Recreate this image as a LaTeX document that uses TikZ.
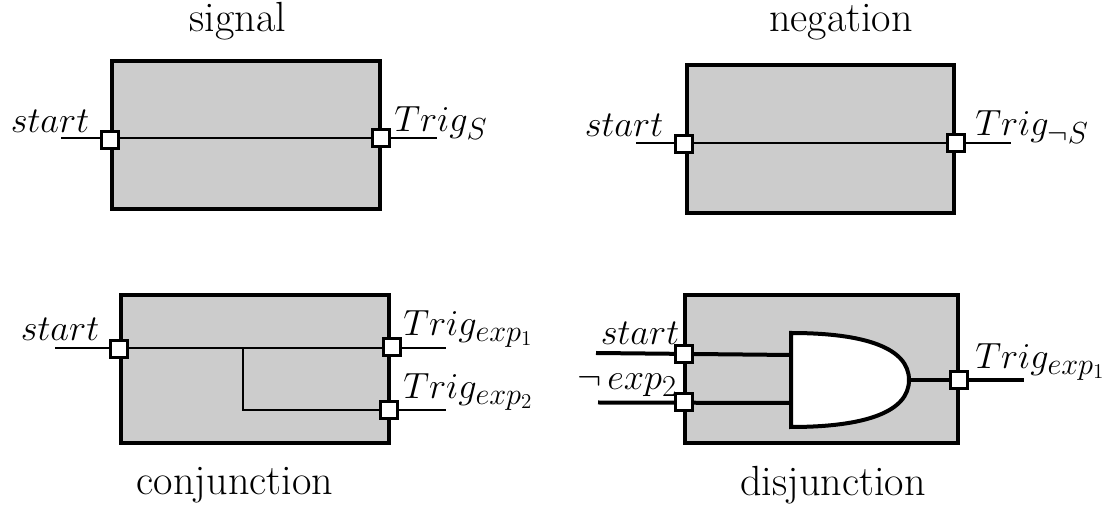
\documentclass[tikz,border=0pt]{standalone}
\usepackage{amsmath}
\usepackage{tikz}
\usetikzlibrary{positioning}
\DeclareMathSizes{22}{22}{17}{12}
\tikzset{
    blockbox/.style = {draw, line width = 0.08cm, fill = black!20, minimum width = 5.36cm, minimum height = 2.96cm, inner sep = 0pt},
    port/.style = {draw, line width = 0.05cm, fill = white, minimum size = 0.34cm, inner sep = 0pt},
    wire/.style = {line width = 0.035cm},
    thickwire/.style = {line width = 0.08cm},
    caption/.style = {inner sep = 0pt, font = \fontsize{24}{28}\selectfont},
    portlabel/.style = {inner sep = 0pt, font = \fontsize{22}{26}\selectfont}
}

\begin{document}
\begin{tikzpicture}[x = 0.02cm, y = -0.02cm]
        \useasboundingbox (0,0) rectangle (1107,506);

        % signal
        \node [caption] (signaltitle) at (238,21) {signal};
        \node [blockbox] (signalbox) at (246,135) {};
        \node [port] (signalin) at (110,140) {};
        \node [port] (signalout) at (381,138) {};
        \coordinate (signalstart) at (61,138);
        \coordinate (signalend) at (437,138);
        \draw [wire] (signalstart) -- (signalend);
        \node [port] at (signalin) {};
        \node [port] at (signalout) {};
        \node [portlabel] (signalstartlabel) at (50,121) {$start$};
        \node [portlabel, anchor = west] (signaltrig) at (394,123) {$Trig_S$};

        % negation
        \node [caption] (negationtitle) at (841,22) {negation};
        \node [blockbox] (negationbox) at (820.5,139) {};
        \node [port] (negationin) at (684,144) {};
        \node [port] (negationout) at (956,143) {};
        \coordinate (negationstart) at (636,143);
        \coordinate (negationend) at (1011,143);
        \draw [wire] (negationstart) -- (negationend);
        \node [port] at (negationin) {};
        \node [port] at (negationout) {};
        \node [portlabel] (negationstartlabel) at (624,125) {$start$};
        \node [portlabel, anchor = west] (negationtrig) at (975,127) {$Trig_{\neg S}$};

        % conjunction
        \node [blockbox] (conjunctionbox) at (255,369) {};
        \node [port] (conjunctionin) at (119,349) {};
        \node [port] (conjunctionup) at (392,347) {};
        \node [port] (conjunctiondown) at (389,410) {};
        \coordinate (conjunctionstart) at (55,348);
        \coordinate (conjunctionend) at (446,348);
        \coordinate (conjunctionlow) at (446,410);
        \coordinate (conjunctionsplit) at (243,348);
        \coordinate (conjunctionturn) at (243,410);
        \draw [wire] (conjunctionstart) -- (conjunctionend);
        \draw [wire] (conjunctionsplit) -- (conjunctionturn) -- (conjunctionlow);
        \node [port] at (conjunctionin) {};
        \node [port] at (conjunctionup) {};
        \node [port] at (conjunctiondown) {};
        \node [portlabel] (conjunctionstartlabel) at (60,329) {$start$};
        \node [portlabel, anchor = west] (conjunctiontrigup) at (403,329) {$Trig_{exp_1}$};
        \node [portlabel, anchor = west] (conjunctiontrigdown) at (403,392) {$Trig_{exp_2}$};
        \node [caption] (conjunctiontitle) at (235,485) {conjunction};

        % disjunction
        \node [blockbox, minimum width = 5.48cm] (disjunctionbox) at (821.5,369) {};
        \coordinate (gatetopleft) at (791,333);
        \coordinate (gatebottomleft) at (791,427);
        \coordinate (gatetip) at (909,380);
        \coordinate (gateup) at (791,355);
        \coordinate (gatedown) at (791,403);
        \node [port] (disjunctionup) at (684,354) {};
        \node [port] (disjunctiondown) at (684,402) {};
        \node [port] (disjunctionout) at (959,380) {};
        \coordinate (disjunctionstart) at (596,353);
        \coordinate (disjunctionneg) at (598,402.5);
        \coordinate (disjunctionend) at (1024,380);
        \draw [thickwire] (disjunctionstart) -- (gateup);
        \draw [thickwire] (disjunctionneg) -- (gatedown);
        \draw [thickwire] (gatetip) -- (disjunctionend);
        \draw [thickwire, fill = white] (gatetopleft) .. controls (865,333) and (909,348) .. (gatetip) .. controls (909,412) and (865,427) .. (gatebottomleft) -- cycle;
        \node [port] at (disjunctionup) {};
        \node [port] at (disjunctiondown) {};
        \node [port] at (disjunctionout) {};
        \node [portlabel] (disjunctionstartlabel) at (640,333) {$start$};
        \node [portlabel] (disjunctionneglabel) at (627,385) {$\neg\,exp_2$};
        \node [portlabel, anchor = west] (disjunctiontrig) at (975,362) {$Trig_{exp_1}$};
        \node [caption] (disjunctiontitle) at (833,485) {disjunction};
    \end{tikzpicture}
\end{document}
